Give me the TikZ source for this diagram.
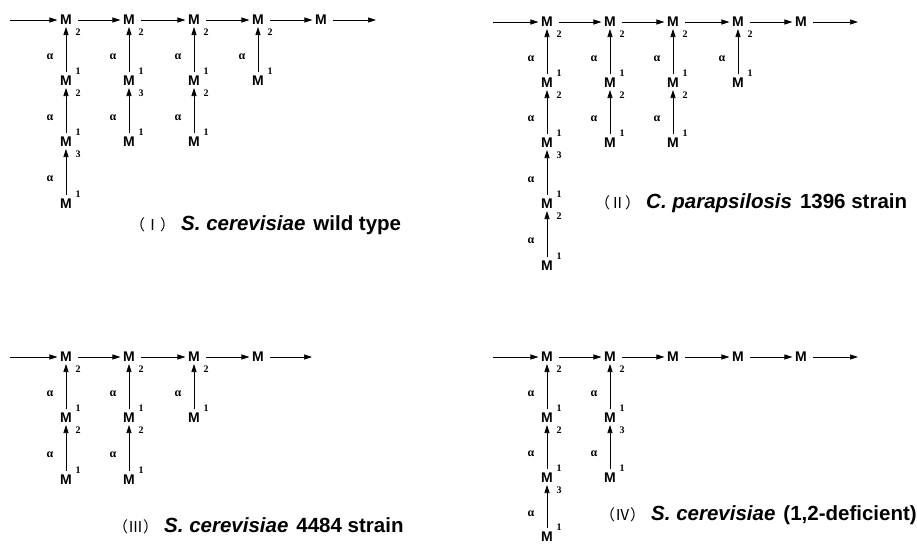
\documentclass[tikz,border=0pt]{standalone}
\usepackage{fontspec}
\setmainfont{Liberation Serif}
\newfontfamily\sansfam{Liberation Sans}
\newfontfamily\cjk{Noto Sans CJK SC}
\newcommand\parenfont{\normalfont\cjk\fontsize{15}{15}\selectfont}
\usetikzlibrary{arrows.meta,calc}

\tikzset{
  mono/.style={font=\sansfam\bfseries\fontsize{14}{14}\selectfont, inner sep=0pt},
  idx/.style={font=\normalfont\bfseries\fontsize{10}{10}\selectfont, inner sep=0pt},
  link/.style={line width=0.7pt, -{Triangle[length=8pt,width=5pt]}},
  chain/.style={link, shorten <=6pt, shorten >=2.5pt},
  branch/.style={link, shorten <=4pt, shorten >=2pt},
  alf/.style={font=\normalfont\bfseries\fontsize{12}{12}\selectfont, inner sep=0pt},
  caption/.style={anchor=west, inner sep=0pt, font=\sansfam\bfseries\fontsize{20.5}{22}\selectfont},
}
% linkage position numbers next to a residue
\newcommand\supidx[2]{\node[idx] (#1h) at ([shift={(12,-10)}]#1.center) {#2};}
\newcommand\subidx[2]{\node[idx] (#1l) at ([shift={(12,12)}]#1.center) {#2};}

\begin{document}
\begin{tikzpicture}[x=1pt,y=-1pt]
\path[use as bounding box, fill=white] (0,0) rectangle (917,546);

% ---------- (I) S. cerevisiae wild type ----------
\node[mono] (I11) at (66,20) {M};
\node[mono] (I12) at (66,81) {M};
\node[mono] (I13) at (66,142) {M};
\node[mono] (I14) at (66,204) {M};
\node[mono] (I21) at (129,20) {M};
\node[mono] (I22) at (129,81) {M};
\node[mono] (I23) at (129,142) {M};
\node[mono] (I31) at (194,20) {M};
\node[mono] (I32) at (194,81) {M};
\node[mono] (I33) at (194,142) {M};
\node[mono] (I41) at (258,20) {M};
\node[mono] (I42) at (258,81) {M};
\node[mono] (I51) at (321,20) {M};
\subidx{I11}{2} \supidx{I12}{1} \subidx{I12}{2} \supidx{I13}{1} \subidx{I13}{3} \supidx{I14}{1}
\subidx{I21}{2} \supidx{I22}{1} \subidx{I22}{3} \supidx{I23}{1}
\subidx{I31}{2} \supidx{I32}{1} \subidx{I32}{2} \supidx{I33}{1}
\subidx{I41}{2} \supidx{I42}{1}
\coordinate (Is) at (10,20);
\coordinate (Ie) at (376,20);
\draw[link, shorten >=2.5pt] (Is) -- (I11);
\draw[chain] (I11) -- (I21);
\draw[chain] (I21) -- (I31);
\draw[chain] (I31) -- (I41);
\draw[chain] (I41) -- (I51);
\draw[link, shorten <=6pt] (I51) -- (Ie);
\foreach \lw/\up in {I12/I11,I13/I12,I14/I13,I22/I21,I23/I22,I32/I31,I33/I32,I42/I41}{
  \draw[branch] (\lw) -- (\up);
  \node[alf] (a\lw) at ($(\up)!0.6!(\lw)+(-16,0)$) {α};
}
\node[caption] (capI) at (130,225) {{\parenfont （Ⅰ）}\hspace{6pt}{\itshape S. cerevisiae}\hspace{8pt}wild type};

% ---------- (II) C. parapsilosis 1396 strain ----------
\node[mono] (J11) at (547,22) {M};
\node[mono] (J12) at (547,83) {M};
\node[mono] (J13) at (547,143) {M};
\node[mono] (J14) at (547,204) {M};
\node[mono] (J15) at (547,266) {M};
\node[mono] (J21) at (610,22) {M};
\node[mono] (J22) at (610,83) {M};
\node[mono] (J23) at (610,143) {M};
\node[mono] (J31) at (673,22) {M};
\node[mono] (J32) at (673,83) {M};
\node[mono] (J33) at (673,143) {M};
\node[mono] (J41) at (738,22) {M};
\node[mono] (J42) at (738,83) {M};
\node[mono] (J51) at (801,22) {M};
\subidx{J11}{2} \supidx{J12}{1} \subidx{J12}{2} \supidx{J13}{1} \subidx{J13}{3}
\supidx{J14}{1} \subidx{J14}{2} \supidx{J15}{1}
\subidx{J21}{2} \supidx{J22}{1} \subidx{J22}{2} \supidx{J23}{1}
\subidx{J31}{2} \supidx{J32}{1} \subidx{J32}{2} \supidx{J33}{1}
\subidx{J41}{2} \supidx{J42}{1}
\coordinate (Js) at (493,22);
\coordinate (Je) at (858,22);
\draw[link, shorten >=2.5pt] (Js) -- (J11);
\draw[chain] (J11) -- (J21);
\draw[chain] (J21) -- (J31);
\draw[chain] (J31) -- (J41);
\draw[chain] (J41) -- (J51);
\draw[link, shorten <=6pt] (J51) -- (Je);
\foreach \lw/\up in {J12/J11,J13/J12,J14/J13,J15/J14,J22/J21,J23/J22,J32/J31,J33/J32,J42/J41}{
  \draw[branch] (\lw) -- (\up);
  \node[alf] (a\lw) at ($(\up)!0.6!(\lw)+(-16,0)$) {α};
}
\node[caption] (capII) at (595,203) {{\parenfont （Ⅱ）}\hspace{6pt}{\itshape C. parapsilosis}\hspace{8pt}1396 strain};

% ---------- (III) S. cerevisiae 4484 strain ----------
\node[mono] (K11) at (66,357) {M};
\node[mono] (K12) at (66,418) {M};
\node[mono] (K13) at (66,480) {M};
\node[mono] (K21) at (129,357) {M};
\node[mono] (K22) at (129,418) {M};
\node[mono] (K23) at (129,480) {M};
\node[mono] (K31) at (194,357) {M};
\node[mono] (K32) at (194,418) {M};
\node[mono] (K41) at (258,357) {M};
\subidx{K11}{2} \supidx{K12}{1} \subidx{K12}{2} \supidx{K13}{1}
\subidx{K21}{2} \supidx{K22}{1} \subidx{K22}{2} \supidx{K23}{1}
\subidx{K31}{2} \supidx{K32}{1}
\coordinate (Ks) at (10,357);
\coordinate (Ke) at (312,357);
\draw[link, shorten >=2.5pt] (Ks) -- (K11);
\draw[chain] (K11) -- (K21);
\draw[chain] (K21) -- (K31);
\draw[chain] (K31) -- (K41);
\draw[link, shorten <=6pt] (K41) -- (Ke);
\foreach \lw/\up in {K12/K11,K13/K12,K22/K21,K23/K22,K32/K31}{
  \draw[branch] (\lw) -- (\up);
  \node[alf] (a\lw) at ($(\up)!0.6!(\lw)+(-16,0)$) {α};
}
\node[caption] (capIII) at (113,526) {{\parenfont （Ⅲ）}\hspace{6pt}{\itshape S. cerevisiae}\hspace{8pt}4484 strain};

% ---------- (IV) S. cerevisiae (1,2-deficient) ----------
\node[mono] (L11) at (547,357) {M};
\node[mono] (L12) at (547,418) {M};
\node[mono] (L13) at (547,478) {M};
\node[mono] (L14) at (547,537) {M};
\node[mono] (L21) at (610,357) {M};
\node[mono] (L22) at (610,418) {M};
\node[mono] (L23) at (610,478) {M};
\node[mono] (L31) at (673,357) {M};
\node[mono] (L41) at (738,357) {M};
\node[mono] (L51) at (801,357) {M};
\subidx{L11}{2} \supidx{L12}{1} \subidx{L12}{2} \supidx{L13}{1} \subidx{L13}{3} \supidx{L14}{1}
\subidx{L21}{2} \supidx{L22}{1} \subidx{L22}{3} \supidx{L23}{1}
\coordinate (Ls) at (493,357);
\coordinate (Le) at (858,357);
\draw[link, shorten >=2.5pt] (Ls) -- (L11);
\draw[chain] (L11) -- (L21);
\draw[chain] (L21) -- (L31);
\draw[chain] (L31) -- (L41);
\draw[chain] (L41) -- (L51);
\draw[link, shorten <=6pt] (L51) -- (Le);
\foreach \lw/\up in {L12/L11,L13/L12,L14/L13,L22/L21,L23/L22}{
  \draw[branch] (\lw) -- (\up);
  \node[alf] (a\lw) at ($(\up)!0.6!(\lw)+(-16,0)$) {α};
}
\node[caption] (capIV) at (600,515) {{\parenfont （Ⅳ）}\hspace{6pt}{\itshape S. cerevisiae}\hspace{8pt}(1,2-deficient)};
\end{tikzpicture}
\end{document}
